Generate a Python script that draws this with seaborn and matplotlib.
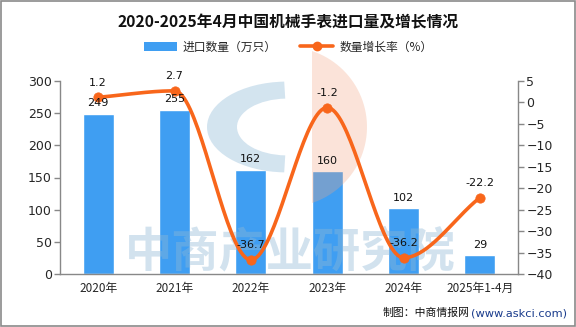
import numpy as np
import pandas as pd
import matplotlib
matplotlib.use("Agg")
import matplotlib.pyplot as plt
from matplotlib.patches import Rectangle, Wedge, Patch, Polygon
from matplotlib.lines import Line2D
import seaborn as sns

categories = ["2020年", "2021年", "2022年", "2023年", "2024年", "2025年1-4月"]
import_qty = [249, 255, 162, 160, 102, 29]
growth_rate = [1.2, 2.7, -36.7, -1.2, -36.2, -22.2]
left_ticks = [0, 50, 100, 150, 200, 250, 300]
right_ticks = [5, 0, -5, -10, -15, -20, -25, -30, -35, -40]

BAR_C = "#3f9ef2"
LINE_C = "#f8661b"

sns.set_theme(style="white")
plt.rcParams["font.family"] = ["DejaVu Sans", "Noto Sans CJK SC"]
CJK = ["Noto Sans CJK SC", "DejaVu Sans"]

fig = plt.figure(figsize=(5.76, 3.27), dpi=100)
ax = fig.add_axes([60/576, 1-274/327, (518-60)/576, (274-81)/327])

df = pd.DataFrame({"cat": categories, "qty": import_qty, "rate": growth_rate})
sns.barplot(data=df, x="cat", y="qty", color=BAR_C, width=0.41, ax=ax,
            saturation=1, zorder=2)
ax.set_ylim(0, 300)
ax.set_xlim(-0.5, 5.5)
ax.set_yticks(left_ticks)
ax.set_xlabel("")
ax.set_ylabel("")
ax.set_xticks(range(len(categories)))
ax.set_xticklabels(categories, family=CJK, fontsize=8.5)
ax.set_xticks(np.arange(-0.5, 6.0, 1.0), minor=True)
ax.tick_params(axis="x", which="major", length=0, pad=6)
ax.tick_params(axis="x", which="minor", length=5, color="#888888", width=1, direction="out")
ax.tick_params(axis="y", length=4, color="#888888", width=1, labelsize=9, direction="out", pad=2)
for s in ["top", "right"]:
    ax.spines[s].set_visible(False)
for s in ["left", "bottom"]:
    ax.spines[s].set_color("#888888")
    ax.spines[s].set_linewidth(1)
ax.grid(False)

ax2 = ax.twinx()
ax2.set_ylim(-40, 5)
ax2.set_yticks(right_ticks)
ax2.tick_params(axis="y", length=4, color="#888888", width=1, labelsize=9, direction="out", pad=2)
for s in ["top", "left", "bottom"]:
    ax2.spines[s].set_visible(False)
ax2.spines["right"].set_color("#888888")
ax2.spines["right"].set_linewidth(1)
ax2.grid(False)

# watermark (above bars, below line and labels)
tf = fig.transFigure
cx, cy, r = 287/576, 1-127/327, 80/576
ax2.add_patch(Wedge((cx, cy), r, 92, 268, width=30/576, transform=tf,
                    facecolor="#6fa6cc", edgecolor="none", alpha=0.3, zorder=3, clip_on=False))
ang = np.linspace(np.arccos((312-287)/80), -np.arccos((312-287)/80), 50)
px = (287 + 80*np.cos(ang)) / 576
py = 1 - (127 - 80*np.sin(ang) * 576/327 * 327/576) / 327
pts = np.column_stack([np.concatenate([[312/576], px, [312/576]]),
                       np.concatenate([[1-(127-80*np.sin(ang[0]))/327], 1-(127-80*np.sin(ang))/327,
                                       [1-(127-80*np.sin(ang[-1]))/327]])])
ax2.add_patch(Polygon(pts, closed=True, transform=tf, facecolor="#f2a583",
                      edgecolor="none", alpha=0.3, zorder=3, clip_on=False))
ax2.text(290/576, 1-252/327, "中商产业研究院", transform=tf, family=CJK, fontsize=34,
         fontweight="bold", color="#8fb8d6", alpha=0.4, ha="center", va="center", zorder=3)

# smoothed line (monotone cubic through the data points)
x = np.arange(len(growth_rate), dtype=float)
y = np.array(growth_rate, dtype=float)
h = np.diff(x)
d = np.diff(y) / h
m = np.zeros_like(y)
m[0], m[-1] = d[0], d[-1]
for k in range(1, len(y) - 1):
    if d[k-1] * d[k] <= 0:
        m[k] = 0
    else:
        w1 = 2*h[k] + h[k-1]
        w2 = h[k] + 2*h[k-1]
        m[k] = (w1 + w2) / (w1/d[k-1] + w2/d[k])
xs, ys = [], []
for k in range(len(x) - 1):
    t = np.linspace(0, 1, 40)
    h00 = 2*t**3 - 3*t**2 + 1
    h10 = t**3 - 2*t**2 + t
    h01 = -2*t**3 + 3*t**2
    h11 = t**3 - t**2
    xs.append(x[k] + t*h[k])
    ys.append(h00*y[k] + h10*h[k]*m[k] + h01*y[k+1] + h11*h[k]*m[k+1])
xs = np.concatenate(xs)
ys = np.concatenate(ys)
ax2.plot(xs, ys, color=LINE_C, lw=2.6, zorder=4, solid_capstyle="round")
sns.scatterplot(x=x, y=y, color=LINE_C, s=45, edgecolor=LINE_C, ax=ax2, zorder=5, legend=False)

for i, v in enumerate(import_qty):
    ax2.annotate(f"{v}", (i, -40 + v * 45 / 300), xytext=(0, 4), textcoords="offset points",
                 ha="center", va="bottom", fontsize=8, color="#111111", zorder=6)
for i, v in enumerate(growth_rate):
    ax2.annotate(f"{v}", (i, v), xytext=(0, 7), textcoords="offset points",
                 ha="center", va="bottom", fontsize=8, color="#111111", zorder=6)

# title and legend
fig.text(0.5, 1-22/327, "2020-2025年4月中国机械手表进口量及增长情况", family=CJK,
         fontsize=11.3, fontweight="bold", ha="center", va="center", color="#111111")
handles = [Patch(facecolor=BAR_C, edgecolor="none"),
           Line2D([0], [0], color=LINE_C, lw=2.6, marker="o", markersize=6)]
fig.legend(handles, ["进口数量（万只）", "数量增长率（%）"], loc="center",
           bbox_to_anchor=(0.5, 1-47/327), ncol=2, frameon=False,
           prop={"family": CJK, "size": 8.5}, handlelength=2.8, handleheight=0.9,
           columnspacing=2.0, handletextpad=0.5)

# footer
fig.text(470/576, 1-313/327, "制图：中商情报网", family=CJK, fontsize=7.8,
         ha="right", va="center", color="#111111")
fig.text(471/576, 1-313/327, "(www.askci.com)", fontsize=8.2,
         ha="left", va="center", color="#1a3c8c")

fig.patches.append(Rectangle((0.0015, 0.002), 0.997, 0.996, transform=fig.transFigure,
                             fill=False, edgecolor="#8a8a8a", lw=1.2, zorder=20))

fig.savefig("out.png", dpi=100)
